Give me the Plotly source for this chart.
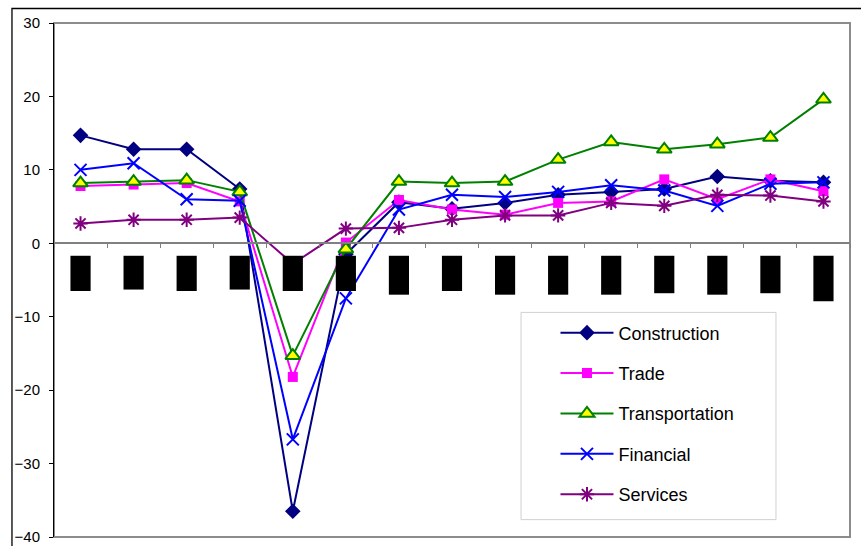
import plotly.graph_objects as go

categories = list(range(15))
construction = [14.7, 12.8, 12.8, 7.4, -36.5, -1.5, 5.6, 4.7, 5.5, 6.6, 7.0, 7.4, 9.1, 8.5, 8.3]
trade = [7.8, 8.0, 8.2, 5.7, -18.2, 0.1, 5.9, 4.6, 3.9, 5.5, 5.7, 8.7, 6.0, 8.7, 7.1]
transportation = [8.2, 8.4, 8.6, 7.0, -15.3, -0.8, 8.4, 8.2, 8.4, 11.4, 13.8, 12.8, 13.5, 14.4, 19.6]
financial = [10.0, 10.9, 6.0, 5.8, -26.7, -7.5, 4.6, 6.6, 6.3, 7.0, 7.9, 7.2, 5.1, 8.1, 8.3]
services = [2.7, 3.2, 3.2, 3.5, -2.8, 2.0, 2.1, 3.2, 3.8, 3.8, 5.5, 5.1, 6.6, 6.5, 5.7]
# redacted (blacked-out) category labels: top and bottom in axis units
label_box_top = -1.7
label_box_bottom = [-6.5, -6.3, -6.5, -6.3, -6.5, -6.5, -7.0, -6.5, -7.0, -7.0, -7.0, -6.8, -7.0, -6.8, -7.9]
y_ticks = [-40, -30, -20, -10, 0, 10, 20, 30]

FONT = "Liberation Sans, Arial, sans-serif"

series = [
    ("Construction", construction, "#000080", dict(symbol="diamond", size=12, color="#000080")),
    ("Trade", trade, "#FF00FF", dict(symbol="square", size=10, color="#FF00FF")),
    ("Transportation", transportation, "#008000",
     dict(symbol="triangle-up", size=13, color="#FFFF00", line=dict(color="#008000", width=2))),
    ("Financial", financial, "#0000FF",
     dict(symbol="x-thin", size=12, color="#0000FF", line=dict(color="#0000FF", width=2))),
    ("Services", services, "#800080",
     dict(symbol="asterisk", size=12, color="#800080", line=dict(color="#800080", width=2))),
]

fig = go.Figure()
for name, vals, col, mk in series:
    fig.add_trace(go.Scatter(
        x=categories, y=vals, name=name, mode="lines+markers",
        line=dict(color=col, width=2), marker=mk, legendgroup=name,
    ))

shapes = []
# outer chart frame (only left/top visible)
shapes.append(dict(type="rect", xref="paper", yref="paper", x0=-0.0528, x1=1.2, y0=-0.2, y1=1.0282,
                   line=dict(color="black", width=1.3), layer="below"))
# plot area border (gray)
shapes.append(dict(type="rect", xref="paper", yref="paper", x0=0, x1=1, y0=0, y1=1,
                   line=dict(color="#8c8c8c", width=2), layer="below"))
# legend box
shapes.append(dict(type="rect", xref="paper", yref="paper", x0=0.5867, x1=0.907, y0=0.0338, y1=0.437,
                   line=dict(color="#d0d0d0", width=1), fillcolor="white", layer="below"))
for c, b in zip(categories, label_box_bottom):
    shapes.append(dict(type="rect", xref="x", yref="y", x0=c - 0.19, x1=c + 0.19,
                       y0=b, y1=label_box_top, fillcolor="black", line=dict(width=0), layer="above"))

fig.update_layout(
    width=861, height=546,
    margin=dict(l=54, r=11, t=23, b=9, autoexpand=False),
    paper_bgcolor="white", plot_bgcolor="white",
    font=dict(family=FONT, color="black", size=15),
    shapes=shapes,
    showlegend=True,
    legend=dict(x=0.63, y=0.433, xanchor="left", yanchor="top",
                bgcolor="rgba(0,0,0,0)", borderwidth=0,
                font=dict(family=FONT, size=18, color="black"),
                tracegroupgap=14, traceorder="grouped", itemwidth=53),
    xaxis=dict(range=[-0.5, 14.5], tickmode="array",
               tickvals=[i - 0.5 for i in range(16)], showticklabels=False,
               ticks="outside", ticklen=4, tickcolor="#808080", tickwidth=1,
               showline=True, linecolor="#808080", linewidth=2,
               showgrid=False, zeroline=False,
               anchor="free", position=40 / 70),
    yaxis=dict(range=[-40, 30], tickvals=y_ticks, ticks="outside", ticklen=4,
               tickcolor="black", showline=True, linecolor="black", linewidth=1,
               showgrid=False, zeroline=False, ticklabelstandoff=6,
               tickfont=dict(family=FONT, size=15, color="black")),
)

fig.write_html("out.html")
